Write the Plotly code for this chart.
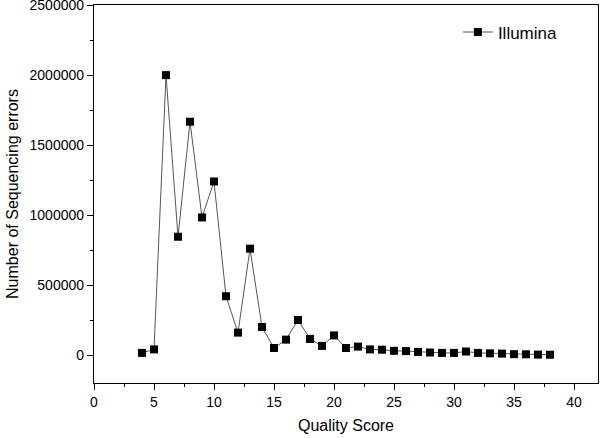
import plotly.graph_objects as go

quality_score = list(range(4, 39))
sequencing_errors = [
    15000, 40000, 2000000, 845000, 1667000, 983000, 1240000, 420000, 160000, 760000,
    200000, 50000, 110000, 250000, 115000, 65000, 140000, 50000, 60000, 40000,
    38000, 30000, 28000, 22000, 18000, 15000, 15000, 25000, 15000, 12000,
    10000, 6000, 5000, 3000, 2000,
]
series_name = "Illumina"

FONT = "Liberation Sans, Arial, sans-serif"


def _axis(title, rng, dtick, minor_dtick, standoff):
    return dict(
        title=dict(text=title, font=dict(size=16, color="black"), standoff=standoff),
        range=rng,
        dtick=dtick,
        tick0=0,
        tickformat="d",
        ticks="outside",
        ticklen=6,
        tickwidth=1.3,
        tickcolor="black",
        tickfont=dict(size=14, color="black"),
        ticklabeloverflow="allow",
        minor=dict(ticks="outside", ticklen=3, tickwidth=1.3, tickcolor="black", dtick=minor_dtick),
        showline=True,
        linecolor="black",
        linewidth=1.3,
        mirror=True,
        showgrid=False,
        zeroline=False,
        automargin=False,
    )


fig = go.Figure()
fig.add_trace(
    go.Scatter(
        x=quality_score,
        y=sequencing_errors,
        mode="lines+markers",
        name=series_name,
        line=dict(color="#555555", width=1),
        marker=dict(symbol="square", size=8, color="black"),
    )
)

fig.update_layout(
    width=600,
    height=438,
    margin=dict(l=94, r=2, t=5, b=55),
    paper_bgcolor="white",
    plot_bgcolor="white",
    font=dict(family=FONT, color="black"),
    xaxis=_axis("Quality Score", [0, 42], 5, 2.5, 10),
    yaxis=_axis("Number of Sequencing errors", [-200000, 2501000], 500000, 250000, 6),
    showlegend=True,
    legend=dict(
        x=0.722, y=0.975, xanchor="left", yanchor="top",
        bgcolor="rgba(0,0,0,0)", font=dict(size=17, color="black"),
    ),
)

# page body has a default 8px margin; drop it so the figure sits at the window origin
fig.write_html(
    "out.html",
    config={"displayModeBar": False},
    post_script="document.body.style.margin='0';",
)
